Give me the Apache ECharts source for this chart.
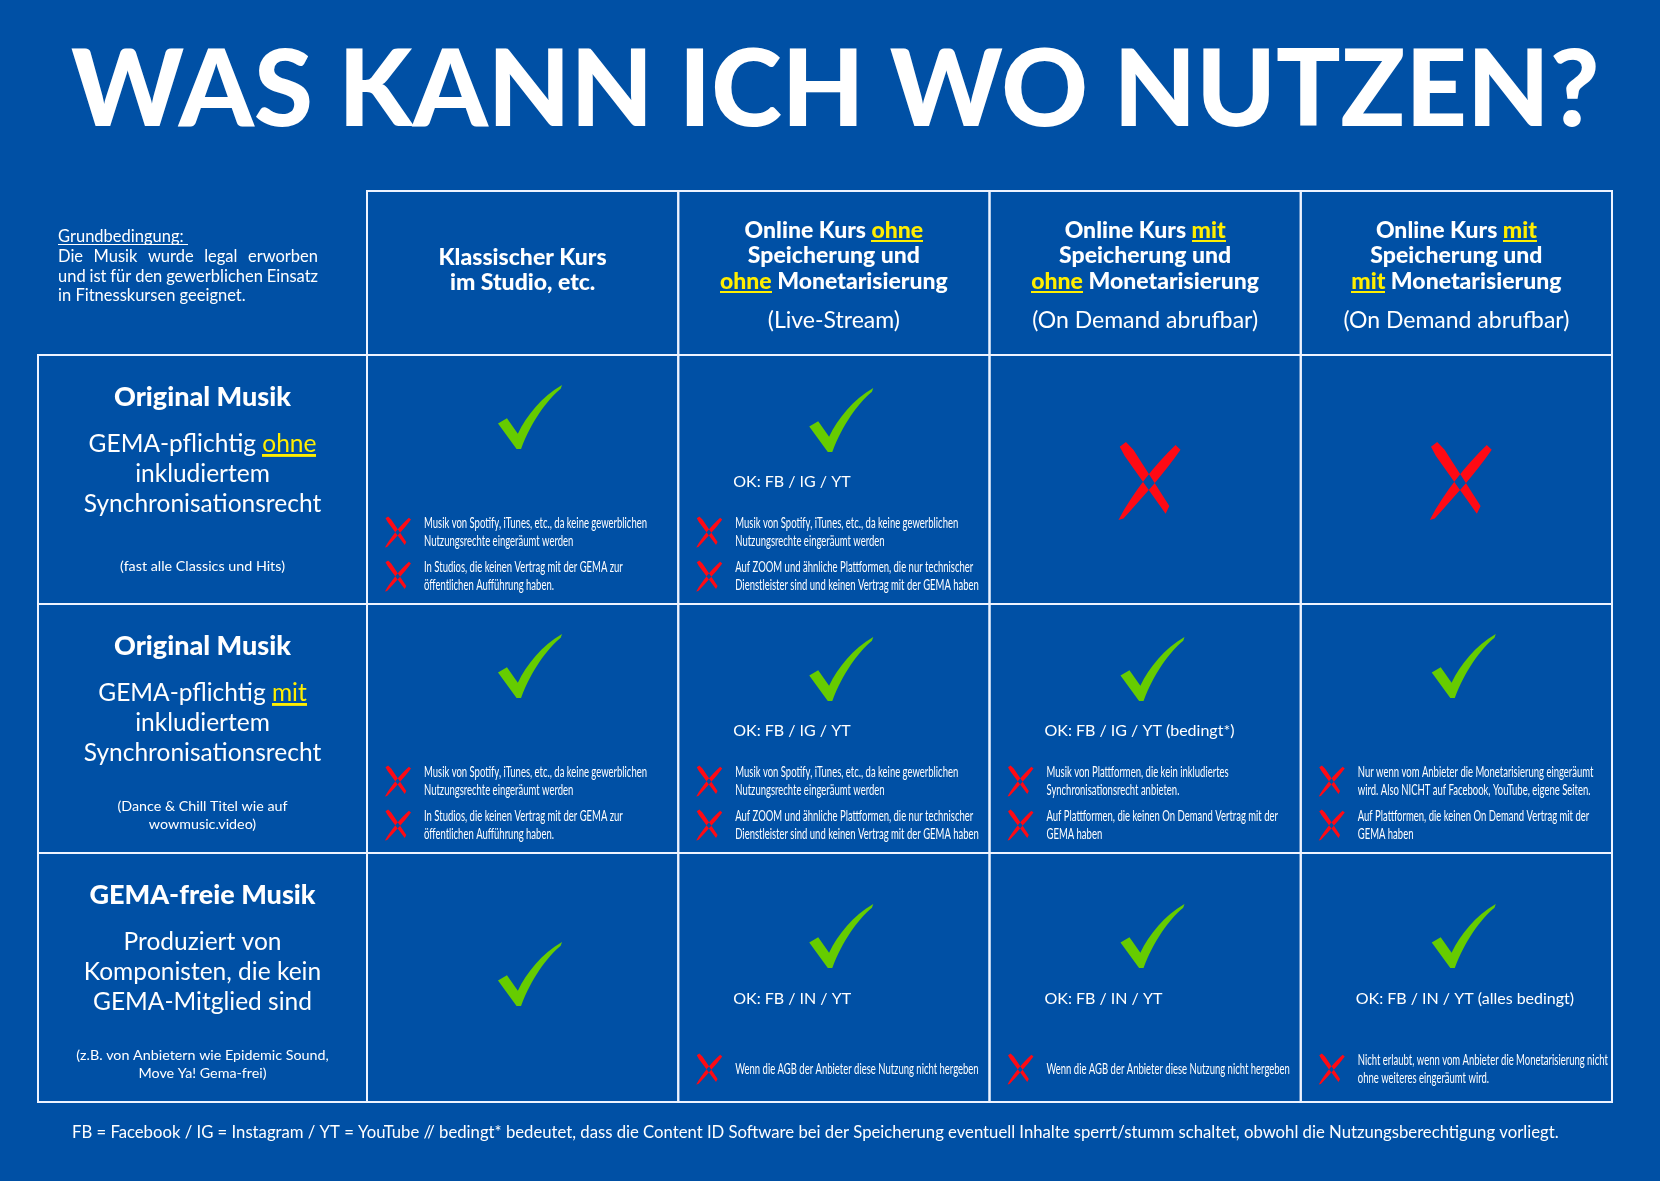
<!DOCTYPE html>
<html>
<head>
<meta charset="utf-8">
<script src="https://cdn.jsdelivr.net/npm/echarts@6/dist/echarts.min.js"></script>
<style>
html,body{margin:0;padding:0;background:#0050a5;}
#chart{width:1660px;height:1181px;}
</style>
</head>
<body>
<div id="chart"></div>
<script>
// ---------------- DATA ----------------
const mainTitle = 'WAS KANN ICH WO NUTZEN?';
const conditionLines = ['Grundbedingung: ', 'Die Musik wurde legal erworben', 'und ist für den gewerblichen Einsatz', 'in Fitnesskursen geeignet.'];
const columns = ['Klassischer Kurs', 'Online ohne Speicherung', 'Online mit Speicherung ohne Monetarisierung', 'Online mit Speicherung mit Monetarisierung'];
const columnTitleLines = [
  ['Klassischer Kurs', 'im Studio, etc.'],
  ['Online Kurs {u|ohne}', 'Speicherung und', '{u|ohne} Monetarisierung'],
  ['Online Kurs {u|mit}', 'Speicherung und', '{u|ohne} Monetarisierung'],
  ['Online Kurs {u|mit}', 'Speicherung und', '{u|mit} Monetarisierung']
];
const columnSubtitles = ['', '(Live-Stream)', '(On Demand abrufbar)', '(On Demand abrufbar)'];
const rows = ['Original ohne Sync', 'Original mit Sync', 'GEMA-frei'];
const rowTitles = ['Original Musik', 'Original Musik', 'GEMA-freie Musik'];
const rowDescLines = [
  ['GEMA-pflichtig {u|ohne}', 'inkludiertem', 'Synchronisationsrecht'],
  ['GEMA-pflichtig {u|mit}', 'inkludiertem', 'Synchronisationsrecht'],
  ['Produziert von', 'Komponisten, die kein', 'GEMA-Mitglied sind']
];
const rowNotes = [
  ['(fast alle Classics und Hits)'],
  ['(Dance & Chill Titel wie auf', 'wowmusic.video)'],
  ['(z.B. von Anbietern wie Epidemic Sound,', 'Move Ya! Gema-frei)']
];
// 1 = erlaubt (Haken), 0 = nicht erlaubt (Kreuz)
const allowed = [
  [1, 1, 0, 0],
  [1, 1, 1, 1],
  [1, 1, 1, 1]
];
const okPlatforms = [
  ['', 'OK: FB / IG / YT', '', ''],
  ['', 'OK: FB / IG / YT', 'OK: FB / IG / YT (bedingt*)', ''],
  ['', 'OK: FB / IN / YT', 'OK: FB / IN / YT', 'OK: FB / IN / YT (alles bedingt)']
];
const restrictions = [
  [
    [['Musik von Spotify, iTunes, etc., da keine gewerblichen', 'Nutzungsrechte eingeräumt werden'], ['In Studios, die keinen Vertrag mit der GEMA zur', 'öffentlichen Aufführung haben.']],
    [['Musik von Spotify, iTunes, etc., da keine gewerblichen', 'Nutzungsrechte eingeräumt werden'], ['Auf ZOOM und ähnliche Plattformen, die nur technischer', 'Dienstleister sind und keinen Vertrag mit der GEMA haben']],
    [],
    []
  ],
  [
    [['Musik von Spotify, iTunes, etc., da keine gewerblichen', 'Nutzungsrechte eingeräumt werden'], ['In Studios, die keinen Vertrag mit der GEMA zur', 'öffentlichen Aufführung haben.']],
    [['Musik von Spotify, iTunes, etc., da keine gewerblichen', 'Nutzungsrechte eingeräumt werden'], ['Auf ZOOM und ähnliche Plattformen, die nur technischer', 'Dienstleister sind und keinen Vertrag mit der GEMA haben']],
    [['Musik von Plattformen, die kein inkludiertes', 'Synchronisationsrecht anbieten.'], ['Auf Plattformen, die keinen On Demand Vertrag mit der', 'GEMA haben']],
    [['Nur wenn vom Anbieter die Monetarisierung eingeräumt', 'wird. Also NICHT auf Facebook, YouTube, eigene Seiten.'], ['Auf Plattformen, die keinen On Demand Vertrag mit der', 'GEMA haben']]
  ],
  [
    [],
    [['Wenn die AGB der Anbieter diese Nutzung nicht hergeben']],
    [['Wenn die AGB der Anbieter diese Nutzung nicht hergeben']],
    [['Nicht erlaubt, wenn vom Anbieter die Monetarisierung nicht', 'ohne weiteres eingeräumt wird.']]
  ]
];
const footnote = 'FB = Facebook / IG = Instagram / YT = YouTube // bedingt* bedeutet, dass die Content ID Software bei der Speicherung eventuell Inhalte sperrt/stumm schaltet, obwohl die Nutzungsberechtigung vorliegt.';

// ---------------- STYLE ----------------
const BG = '#0050a5';
const LINE = '#eef3ff';
const YELLOW = '#ffee00';
const GREEN = '#66cc00';
const RED = '#ff0a14';
const FONT = 'Lato, "Open Sans", sans-serif';

const CHECK_PATH = 'M0 60 L14 52 L31 76 C45 48 68 18 100 0 L98 6 C76 24 52 58 36 100 L29 100 Z';
const CROSS_PATH = 'M2 6 L12 0 L24 10 L82 82 L76 92 L10 18 Z M100 10 L92 4 C60 28 24 64 0 100 L8 98 C40 70 74 40 100 10 Z';

const mctx = document.createElement('canvas').getContext('2d');
function textW(str, font) { mctx.font = font; return mctx.measureText(str).width; }

function underlineImg(color) {
  const c = document.createElement('canvas');
  c.width = 4; c.height = 100;
  const g = c.getContext('2d');
  g.fillStyle = color;
  g.fillRect(0, 84, 4, 8);
  return c;
}
const ulYellow = underlineImg(YELLOW);
const ulWhite = underlineImg('#ffffff');

const TITLE_FONT_100 = '900 100px ' + FONT;
const TITLE_SIZE = Math.round(100 * 1527 / textW(mainTitle, TITLE_FONT_100));
const TITLE_W = textW(mainTitle, '900 ' + TITLE_SIZE + 'px ' + FONT);
const FOOT_SIZE = Math.round(100 * 1489 / textW(footnote, '100px ' + FONT) * 10) / 10;
const NOTE_SIZE = 15;
const NOTE_SCALE = 223 / textW('Musik von Spotify, iTunes, etc., da keine gewerblichen', NOTE_SIZE + 'px ' + FONT);

// justified condition text via rich gap tokens
const COND_SIZE = 16.5;
const COND_W = 260;
const condRich = { u: { color: '#fff', fontFamily: FONT, fontSize: COND_SIZE, lineHeight: 19.7, height: 20, backgroundColor: { image: ulWhite } } };
function justify(line, idx) {
  const words = line.split(' ');
  const font = COND_SIZE + 'px ' + FONT;
  let sum = 0;
  words.forEach(function (w) { sum += textW(w, font); });
  const gap = (COND_W - sum) / (words.length - 1);
  const key = 'g' + idx;
  condRich[key] = { width: gap, fontFamily: FONT, fontSize: COND_SIZE, lineHeight: 19.7 };
  return words.join('{' + key + '| }');
}
const condText = '{u|' + conditionLines[0] + '}\n' + justify(conditionLines[1], 1) + '\n' + justify(conditionLines[2], 2) + '\n' + conditionLines[3];

function cellRect(api) {
  const c = api.coord([api.value(0), api.value(1)]);
  const s = api.size([1, 1]);
  return { x: c[0] - s[0] / 2, y: c[1] - s[1] / 2, w: s[0], h: s[1] };
}
function border(r) {
  return { type: 'rect', shape: { x: r.x, y: r.y, width: r.w, height: r.h }, style: { fill: 'none', stroke: LINE, lineWidth: 2 } };
}
function mark(path, cx, cy, w, h, color) {
  return { type: 'path', shape: { pathData: path, x: cx - w / 2, y: cy - h / 2, width: w, height: h, layout: 'cover' }, style: { fill: color } };
}

function renderHead(params, api) {
  const i = api.value(0);
  const r = cellRect(api);
  const cx = r.x + r.w / 2;
  const hasSub = columnSubtitles[i] !== '';
  const children = [border(r)];
  children.push({
    type: 'text', x: cx, y: r.y + (hasSub ? 65 : 79),
    style: {
      text: columnTitleLines[i].join('\n'), fill: '#fff', fontFamily: FONT, fontWeight: 900, fontSize: 23,
      lineHeight: 25.5, align: 'center', verticalAlign: 'middle',
      rich: { u: { fill: YELLOW, fontFamily: FONT, fontWeight: 900, fontSize: 23, lineHeight: 25.5, height: 27, backgroundColor: { image: ulYellow } } }
    }
  });
  if (hasSub) {
    children.push({
      type: 'text', x: cx, y: r.y + 130,
      style: { text: columnSubtitles[i], fill: '#fff', fontFamily: FONT, fontSize: 23, align: 'center', verticalAlign: 'middle' }
    });
  }
  return { type: 'group', children: children };
}

function renderRowHead(params, api) {
  const j = api.value(1);
  const r = cellRect(api);
  const cx = r.x + r.w / 2;
  return {
    type: 'group', children: [
      border(r),
      { type: 'text', x: cx, y: r.y + 42, style: { text: rowTitles[j], fill: '#fff', fontFamily: FONT, fontWeight: 900, fontSize: 27, align: 'center', verticalAlign: 'middle' } },
      { type: 'text', x: cx, y: r.y + 119, style: {
        text: rowDescLines[j].join('\n'), fill: '#fff', fontFamily: FONT, fontSize: 24.5, lineHeight: 30, align: 'center', verticalAlign: 'middle',
        rich: { u: { fill: YELLOW, fontFamily: FONT, fontSize: 24.5, lineHeight: 30, height: 30, backgroundColor: { image: ulYellow } } }
      } },
      { type: 'text', x: cx, y: r.y + 211, style: { text: rowNotes[j].join('\n'), fill: '#fff', fontFamily: FONT, fontSize: 14.3, lineHeight: 18, align: 'center', verticalAlign: 'middle' } }
    ]
  };
}

function renderBody(params, api) {
  const i = api.value(0), j = api.value(1);
  const r = cellRect(api);
  const notes = restrictions[j][i];
  const ok = okPlatforms[j][i];
  const children = [border(r)];
  if (!allowed[j][i]) {
    children.push(mark(CROSS_PATH, r.x + 160, r.y + 126, 62, 78, RED));
  } else {
    let cy = ok ? (notes.length === 1 ? 83 : 65) : (notes.length ? 62 : 121);
    children.push(mark(CHECK_PATH, r.x + 163, r.y + cy, 64, 64, GREEN));
  }
  if (ok) {
    children.push({ type: 'text', x: r.x + 55, y: r.y + (notes.length === 1 ? 146 : 127),
      style: { text: ok, fill: '#fff', fontFamily: FONT, fontSize: 16, align: 'left', verticalAlign: 'middle' } });
  }
  const last = notes.length === 1 ? 216 : 221;
  notes.forEach(function (lines, k) {
    const cy = r.y + last - 44 * (notes.length - 1 - k);
    children.push(mark(CROSS_PATH, r.x + 31, cy, 26, 31, RED));
    children.push({ type: 'text', x: r.x + 57, y: cy, scaleX: NOTE_SCALE, scaleY: 1,
      style: { text: lines.join('\n'), fill: '#fff', fontFamily: FONT, fontSize: NOTE_SIZE, lineHeight: 17.5, align: 'left', verticalAlign: 'middle' } });
  });
  return { type: 'group', children: children };
}

const headData = columns.map(function (c, i) { return [i, 0]; });
const rowData = rows.map(function (c, j) { return [0, j]; });
const bodyData = [];
rows.forEach(function (rw, j) { columns.forEach(function (c, i) { bodyData.push([i, j]); }); });

const chart = echarts.init(document.getElementById('chart'));
chart.setOption({
  backgroundColor: BG,
  animation: false,
  title: [
    { text: mainTitle, left: Math.round(835 - TITLE_W / 2), top: 91 - TITLE_SIZE / 2, padding: 0,
      textStyle: { color: '#fff', fontFamily: FONT, fontWeight: 900, fontSize: TITLE_SIZE, lineHeight: TITLE_SIZE } },
    { text: condText, left: 58, top: 227, padding: 0,
      textStyle: { color: '#fff', fontFamily: FONT, fontWeight: 'normal', fontSize: COND_SIZE, lineHeight: 19.7, rich: condRich } },
    { text: footnote, left: 72, top: 1133 - 11, padding: 0,
      textStyle: { color: '#fff', fontFamily: FONT, fontWeight: 'normal', fontSize: FOOT_SIZE, lineHeight: 22 } }
  ],
  grid: [
    { left: 367, top: 191, width: 1245, height: 164 },
    { left: 38, top: 355, width: 329, height: 747 },
    { left: 367, top: 355, width: 1245, height: 747 }
  ],
  xAxis: [
    { type: 'category', gridIndex: 0, data: columns, show: false },
    { type: 'category', gridIndex: 1, data: ['Musik'], show: false },
    { type: 'category', gridIndex: 2, data: columns, show: false }
  ],
  yAxis: [
    { type: 'category', gridIndex: 0, data: ['Kopf'], show: false },
    { type: 'category', gridIndex: 1, data: rows, inverse: true, show: false },
    { type: 'category', gridIndex: 2, data: rows, inverse: true, show: false }
  ],
  series: [
    { type: 'custom', xAxisIndex: 0, yAxisIndex: 0, data: headData, renderItem: renderHead, silent: true },
    { type: 'custom', xAxisIndex: 1, yAxisIndex: 1, data: rowData, renderItem: renderRowHead, silent: true },
    { type: 'custom', xAxisIndex: 2, yAxisIndex: 2, data: bodyData, renderItem: renderBody, silent: true }
  ]
});
</script>
</body>
</html>
